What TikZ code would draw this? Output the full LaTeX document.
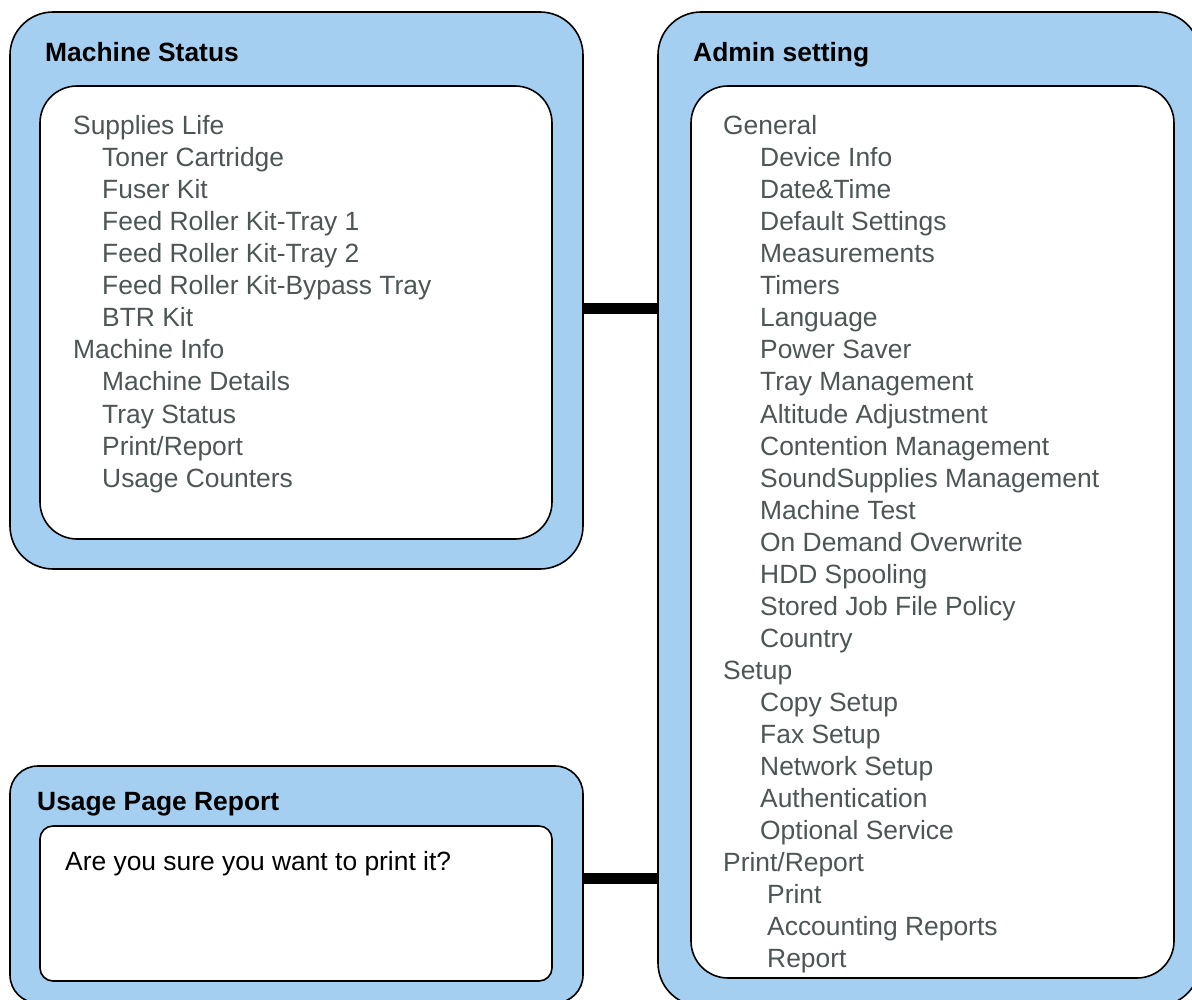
\documentclass[tikz,border=0pt]{standalone}
\usepackage{fontspec}
\setmainfont{Liberation Sans}
\usepackage{tikz}
\usetikzlibrary{positioning,calc}
\usepackage{xcolor}
\definecolor{panelblue}{RGB}{164,207,240}
\definecolor{itemgray}{RGB}{77,85,85}

\begin{document}
\begin{tikzpicture}[
  x=1pt, y=-1pt,
  outer/.style={draw=black, line width=1.6pt, fill=panelblue, rounded corners=43pt, anchor=north west, outer sep=0pt, inner sep=0pt},
  inner/.style={draw=black, line width=1.6pt, fill=white, rounded corners=37pt, anchor=north west, outer sep=0pt, inner sep=0pt},
  title/.style={anchor=base west, inner sep=0pt, font=\fontsize{26.4}{32}\selectfont\bfseries},
  item/.style={anchor=base west, inner sep=0pt, text=itemgray, font=\fontsize{26.4}{32}\selectfont},
  bar/.style={line width=11pt, draw=black}
]
\useasboundingbox (0,0) rectangle (1192,1000);

% panels
\node[outer, minimum width=573pt, minimum height=557pt] (status) at (10,12) {};
\node[inner, minimum width=512pt, minimum height=453pt] (statuslist) at (40,86) {};
\node[outer, minimum width=542pt, minimum height=994pt] (admin) at (658,12) {};
\node[inner, minimum width=483pt, minimum height=892pt] (adminlist) at (691,86) {};
\node[outer, rounded corners=28pt, minimum width=573pt, minimum height=237pt] (usage) at (10,766) {};
\node[inner, rounded corners=13pt, minimum width=512pt, minimum height=155pt] (usagemsg) at (40,826) {};

\node[title] (statustitle) at (45,62) {Machine Status};
\node[title] (admintitle) at (693,62) {Admin setting};
\node[title] (usagetitle) at (37,810) {Usage Page Report};

\foreach \x/\t [count=\i] in {73/Supplies Life, 102/Toner Cartridge, 102/Fuser Kit,
    102/Feed Roller Kit-Tray 1, 102/Feed Roller Kit-Tray 2, 102/Feed Roller Kit-Bypass Tray,
    102/BTR Kit, 73/Machine Info, 102/Machine Details, 102/Tray Status,
    102/{Print/Report}, 102/Usage Counters}
  \node[item] (st\i) at (\x,103+32*\i) {\t};

\foreach \x/\t [count=\i] in {723/General, 760/Device Info, 760/Date\&Time, 760/Default Settings,
    760/Measurements, 760/Timers, 760/Language, 760/Power Saver, 760/Tray Management,
    760/Altitude Adjustment, 760/Contention Management, 760/SoundSupplies Management,
    760/Machine Test, 760/On Demand Overwrite, 760/HDD Spooling, 760/Stored Job File Policy,
    760/Country, 723/Setup, 760/Copy Setup, 760/Fax Setup, 760/Network Setup,
    760/Authentication, 760/Optional Service, 723/{Print/Report}, 767/Print,
    767/Accounting Reports, 767/Report}
  \node[item] (ad\i) at (\x,103+32*\i) {\t};

\node[item, text=black] (usagetext) at (65,870) {Are you sure you want to print it?};

% links between panels
\draw[bar] (status.east |- 0,308.5) -- (admin.west |- 0,308.5);
\draw[bar] (usage.east |- 0,878.5) -- (admin.west |- 0,878.5);
\end{tikzpicture}
\end{document}
